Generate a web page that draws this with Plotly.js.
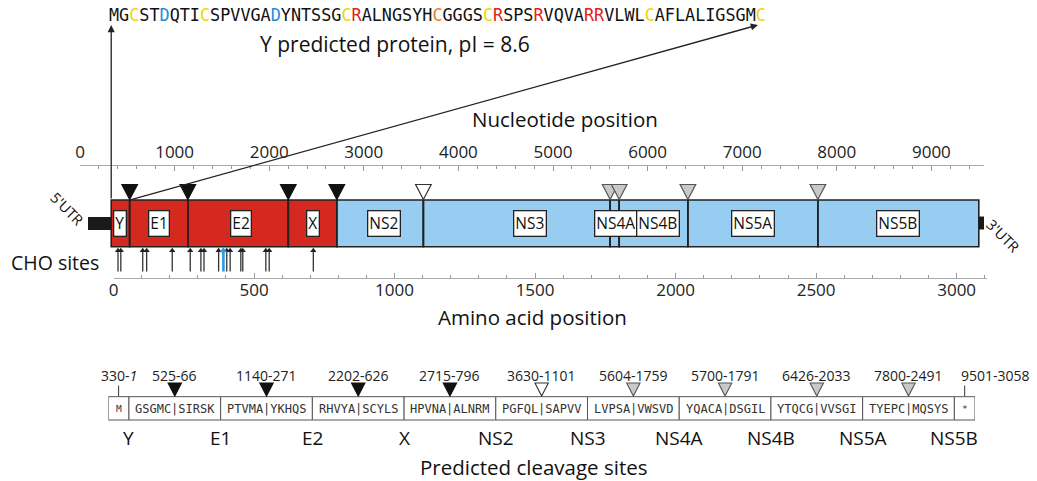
<!DOCTYPE html>
<html><head><meta charset="utf-8">
<script src="https://cdn.plot.ly/plotly-3.0.1.min.js"></script>
<style>html,body{margin:0;padding:0;background:#fff;} #chart{width:1037px;height:481px;}</style>
</head><body><div id="chart"></div>
<script>
// ---------------- data ----------------
const proteins = ['Y','E1','E2','X','NS2','NS3','NS4A','NS4B','NS5A','NS5B'];
const ntStart = [330, 525, 1140, 2202, 2715, 3630, 5604, 5700, 6426, 7800];
const ntStop = 9501;
const aaStart = [1, 66, 271, 626, 796, 1101, 1759, 1791, 2033, 2491];
const aaStop = 3058;
const proteinClass = ['structural','structural','structural','structural','nonstructural','nonstructural','nonstructural','nonstructural','nonstructural','nonstructural'];
const cleavageSeqs = ['GSGMC|SIRSK','PTVMA|YKHQS','RHVYA|SCYLS','HPVNA|ALNRM','PGFQL|SAPVV','LVPSA|VWSVD','YQACA|DSGIL','YTQCG|VVSGI','TYEPC|MQSYS'];
const cleavageType = ['signalase','signalase','signalase','signalase','NS2','NS3','NS3','NS3','NS3'];
const choSites = [16, 26, 104, 118, 209, 273, 311, 322, 374, 403, 415, 453, 460, 542, 554, 711];
const choHighlighted = [391];
const ySequence = 'MGCSTDQTICSPVVGADYNTSSGCRALNGSYHCGGGSCRSPSRVQVARRVLWLCAFLALIGSGMC';
const ySequencePI = 8.6;
const residueColors = {C:'#f2d400', D:'#1d8fd8', R:'#e0231b'};
const orangeResidues = [33];
const ntTickStep = 1000, ntMinorStep = 200;
const aaTickStep = 500, aaMinorStep = 100;

// ---------------- layout constants ----------------
const W = 1037, H = 481;
const FONT = 'Open Sans';
const ntDom = [80, 984], ntRange = [0, 9556];
const aaDom = [113.5, 987], aaRange = [0, 3108];
const tblDom = [108.3, 975];
const pxPerNt = (ntDom[1]-ntDom[0])/(ntRange[1]-ntRange[0]);
const px2nt = p => (p - ntDom[0]) / pxPerNt;
const classFill = {structural:'#d5281e', nonstructural:'#96cdf1'};
const labelShiftPx = {E2:3, NS2:4, NS3:13, NS4A:1, NS4B:4};
const siteStyle = {
  signalase:{fill:'#111111', line:'#111111'},
  NS2:{fill:'#ffffff', line:'#333333'},
  NS3:{fill:'#c9c9c9', line:'#555555'}
};
const boxTop = 200, boxBot = 246.7;

const shapes = [];
const annotations = [];
const edges = ntStart.concat([ntStop]);
const txt = (x, y, text, size, extra) => Object.assign({xref:'paper', yref:'y', x: x/W, y: y, text: text,
  xanchor:'center', yanchor:'middle', showarrow:false, font:{family:FONT, size:size, color:'#111'}}, extra || {});

// UTR bars
shapes.push({type:'rect', xref:'x', yref:'y', x0: px2nt(88), x1: ntStart[0], y0:217, y1:230, fillcolor:'#1a1a1a', line:{width:0}});
shapes.push({type:'rect', xref:'x', yref:'y', x0: ntStop, x1: ntStop + 7/pxPerNt, y0:216.5, y1:229.5, fillcolor:'#1a1a1a', line:{width:0}});

// polyprotein segments
for (let i = 0; i < proteins.length; i++) {
  shapes.push({type:'rect', xref:'x', yref:'y', x0: edges[i], x1: edges[i+1], y0: boxTop, y1: boxBot,
    fillcolor: classFill[proteinClass[i]], line:{color:'#222', width:1.6}, layer:'below'});
  annotations.push({xref:'x', yref:'y', x:(edges[i]+edges[i+1])/2, y:(boxTop+boxBot)/2, text: proteins[i],
    xshift: labelShiftPx[proteins[i]] || 0,
    xanchor:'center', yanchor:'middle', showarrow:false, bgcolor:'#fff', bordercolor:'#222', borderwidth:1.3, borderpad:1,
    font:{family:FONT, size:15.5, color:'#111'}});
}
// cleavage triangles above polyprotein
const hwNt = 7.8 / pxPerNt;
for (let i = 1; i < proteins.length; i++) {
  const x = edges[i], st = siteStyle[cleavageType[i-1]];
  shapes.push({type:'path', xref:'x', yref:'y',
    path:`M ${x-hwNt},184.5 L ${x+hwNt},184.5 L ${x},199.5 Z`, fillcolor: st.fill, line:{color: st.line, width:1.2}});
}

// sequence text with coloured residues
let seqHtml = '';
for (let i = 0; i < ySequence.length; i++) {
  const r = ySequence[i];
  let col = residueColors[r];
  if (orangeResidues.includes(i+1)) col = '#ec7d1e';
  seqHtml += col ? `<span style="color:${col}">${r}</span>` : r;
}
const seqLeft = 106.5, charW = 10.1;
annotations.push({xref:'paper', yref:'y', x: seqLeft/W, y: 15, xanchor:'left', yanchor:'middle', text: seqHtml,
  showarrow:false, font:{family:'DejaVu Sans Mono', size:16.8, color:'#111'}});
annotations.push(txt(395, 44, `Y predicted protein, pI = ${ySequencePI}`, 21));
// arrows to sequence
annotations.push({xref:'x', yref:'y', x: ntStart[0], y: 25, axref:'x', ayref:'y', ax: ntStart[0], ay: boxTop,
  text:'', showarrow:true, arrowhead:2, arrowsize:1.1, arrowwidth:1.3, arrowcolor:'#222', standoff:0});
annotations.push({xref:'x', yref:'y', x: px2nt(seqLeft + (ySequence.length-0.5)*charW), y: 25, axref:'x', ayref:'y',
  ax: ntStart[1], ay: boxTop, text:'', showarrow:true, arrowhead:2, arrowsize:1.1, arrowwidth:1.3, arrowcolor:'#222', standoff:0});

// axis titles and side labels
annotations.push(txt(565, 119, 'Nucleotide position', 20.5));
annotations.push(txt(532, 317, 'Amino acid position', 20.5));
annotations.push(txt(55, 262, 'CHO sites', 19.5));
annotations.push(txt(67, 208, "5'UTR", 14.5, {textangle:45}));
annotations.push(txt(1003, 235, "3'UTR", 14.5, {textangle:45}));

// CHO site arrows
const choX = [], choY = [];
choSites.forEach(s => { choX.push(s, s, null); choY.push(252, 271.5, null); });
const hlX = [], hlY = [];
choHighlighted.forEach(s => { hlX.push(s, s, null); hlY.push(252, 271.5, null); });

// ---------------- cleavage-site table ----------------
const cells = ['M'].concat(cleavageSeqs, ['*']);
const narrow = 0.225;
const bounds = [0];
cells.forEach((c, i) => bounds.push(bounds[i] + ((i === 0 || i === cells.length-1) ? narrow : 1)));
const tblRange = [0, bounds[bounds.length-1]];
const unitPx = (tblDom[1]-tblDom[0]) / tblRange[1];
const tTop = 396.7, tBot = 420;
cells.forEach((c, i) => {
  shapes.push({type:'rect', xref:'x3', yref:'y', x0: bounds[i], x1: bounds[i+1], y0: tTop, y1: tBot,
    fillcolor:'#fff', line:{color:'#555', width:1}});
  annotations.push({xref:'x3', yref:'y', x:(bounds[i]+bounds[i+1])/2, y:(tTop+tBot)/2 + 0.5, text: c, showarrow:false,
    xanchor:'center', yanchor:'middle',
    font:{family:'DejaVu Sans Mono', size: (i === 0 || i === cells.length-1) ? 9.5 : 12, color:'#333'}});
});
const hwT = 6.7 / unitPx;
cleavageSeqs.forEach((s, k) => {
  const i = k + 1, xc = (bounds[i]+bounds[i+1])/2, st = siteStyle[cleavageType[k]];
  shapes.push({type:'path', xref:'x3', yref:'y', path:`M ${xc-hwT},383 L ${xc+hwT},383 L ${xc},396 Z`,
    fillcolor: st.fill, line:{color: st.line, width:1.1}});
  annotations.push({xref:'x3', yref:'y', x: xc, y: 375, text: `${ntStart[i]}-${aaStart[i]}`, showarrow:false,
    xanchor:'center', yanchor:'middle', font:{family:FONT, size:14, color:'#222'}});
});
const mC = (bounds[0]+bounds[1])/2, eC = (bounds[cells.length-1]+bounds[cells.length])/2;
const tickX = [mC, mC, null, eC, eC], tickY = [385.5, tTop, null, 385.5, tTop];
annotations.push({xref:'x3', yref:'y', x: mC, y: 375, text: `${ntStart[0]}-<i>${aaStart[0]}</i>`, showarrow:false,
  xanchor:'center', yanchor:'middle', font:{family:FONT, size:14, color:'#222'}});
annotations.push({xref:'x3', yref:'y', x: eC - 6/unitPx, xanchor:'left', yanchor:'middle', y: 375, text: `${ntStop}-${aaStop}`, showarrow:false,
  font:{family:FONT, size:14, color:'#222'}});
proteins.forEach((p, i) => {
  annotations.push({xref:'x3', yref:'y', x: bounds[i+1], y: 438, text: p, showarrow:false,
    xanchor:'center', yanchor:'middle', font:{family:FONT, size:19, color:'#111'}});
});
annotations.push(txt(533, 467, 'Predicted cleavage sites', 20.5));

// ---------------- traces ----------------
const traces = [
  {type:'scatter', mode:'lines', xaxis:'x', yaxis:'y', x: ntStart.slice(1).flatMap(v => [v, v, null]),
   y: ntStart.slice(1).flatMap(() => [boxTop, boxBot, null]), line:{color:'#222', width:1.6}, hoverinfo:'skip'},
  {type:'scatter', mode:'lines', xaxis:'x2', yaxis:'y', x: choX, y: choY, line:{color:'#333', width:1.3}, hoverinfo:'skip'},
  {type:'scatter', mode:'markers', xaxis:'x2', yaxis:'y', x: choSites, y: choSites.map(() => 250.6),
   marker:{symbol:'triangle-up', size:5.5, color:'#222'}, hoverinfo:'skip'},
  {type:'scatter', mode:'lines', xaxis:'x2', yaxis:'y', x: hlX, y: hlY, line:{color:'#2b9be0', width:2.6}, hoverinfo:'skip'},
  {type:'scatter', mode:'markers', xaxis:'x2', yaxis:'y', x: choHighlighted, y: choHighlighted.map(() => 250.6),
   marker:{symbol:'triangle-up', size:6.5, color:'#2b9be0'}, hoverinfo:'skip'},
  {type:'scatter', mode:'lines', xaxis:'x3', yaxis:'y', x: tickX, y: tickY, line:{color:'#333', width:1}, hoverinfo:'skip'}
];

const tickFont = {family:FONT, size:17, color:'#222'};
const layout = {
  width: W, height: H, margin:{l:0, r:0, t:0, b:0}, paper_bgcolor:'#fff', plot_bgcolor:'rgba(0,0,0,0)',
  showlegend:false, hovermode:false,
  xaxis:{domain:[ntDom[0]/W, ntDom[1]/W], range: ntRange, anchor:'free', position: 1 - 165/H, side:'top',
    showline:true, linecolor:'#aaa', linewidth:1, ticks:'inside', ticklen:5, tickcolor:'#999', tickwidth:1,
    tick0:0, dtick: ntTickStep, minor:{ticks:'inside', ticklen:3, dtick: ntMinorStep, tick0:0, tickcolor:'#999', showgrid:false},
    showgrid:false, zeroline:false, tickfont: tickFont, fixedrange:true},
  xaxis2:{domain:[aaDom[0]/W, aaDom[1]/W], range: aaRange, anchor:'free', position: 1 - 278.3/H, side:'bottom',
    showline:true, linecolor:'#aaa', linewidth:1, ticks:'inside', ticklen:5, tickcolor:'#999', tickwidth:1,
    tick0:0, dtick: aaTickStep, minor:{ticks:'inside', ticklen:3, dtick: aaMinorStep, tick0:0, tickcolor:'#999', showgrid:false},
    showgrid:false, zeroline:false, tickfont: tickFont, ticklabelstandoff:-4, fixedrange:true},
  xaxis3:{domain:[tblDom[0]/W, tblDom[1]/W], range: tblRange, anchor:'y', visible:false, fixedrange:true},
  yaxis:{domain:[0,1], range:[H, 0], visible:false, fixedrange:true},
  shapes: shapes, annotations: annotations
};
Plotly.newPlot('chart', traces, layout, {staticPlot:true, displayModeBar:false});
</script></body></html>
